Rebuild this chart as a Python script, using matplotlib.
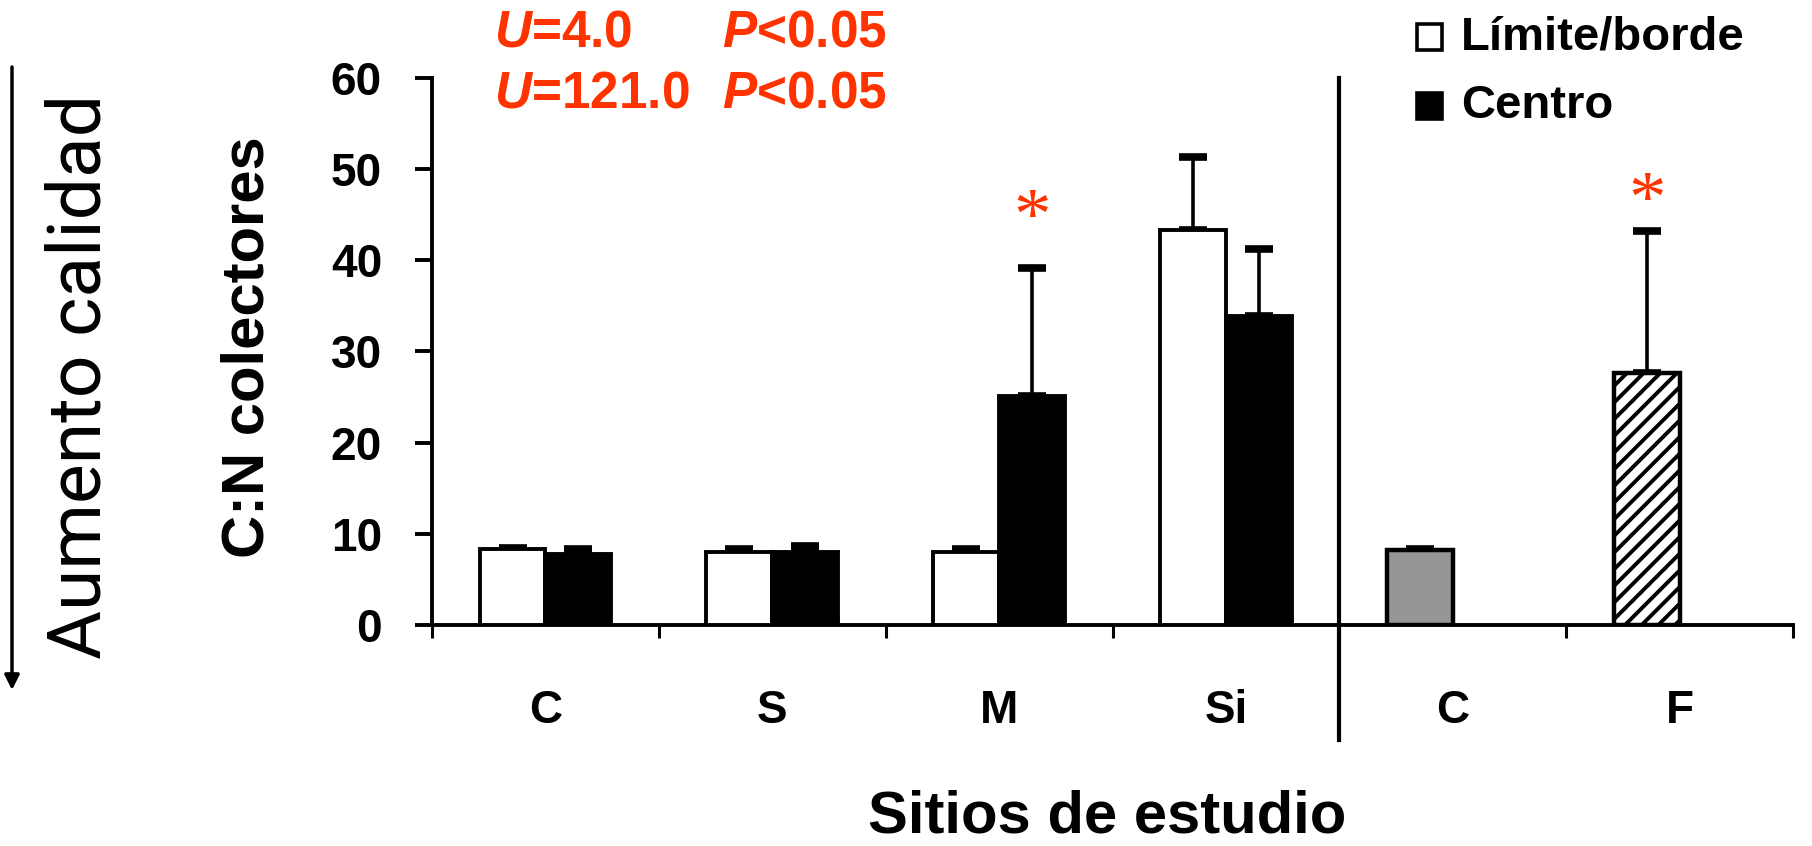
import matplotlib
matplotlib.use("Agg")
import matplotlib.pyplot as plt
import numpy as np
from matplotlib.patches import Rectangle

# ---------------- data ----------------
sites_left = ["C", "S", "M", "Si"]
limite_vals = [8.3, 8.0, 8.0, 43.3]
limite_err = [0.15, 0.3, 0.3, 8.0]
centro_vals = [7.8, 8.05, 25.1, 33.9]
centro_err = [0.5, 0.65, 14.1, 7.3]

sites_right = ["C", "F"]
right_vals = [8.25, 27.6]
right_err = [0.1, 15.6]
right_colors = ["#969696", "white"]
right_hatch = [None, "//"]

all_labels = sites_left + sites_right
yticks = [0, 10, 20, 30, 40, 50, 60]

stats_lines = [("U", "=4.0", "P", "<0.05"), ("U", "=121.0", "P", "<0.05")]
star_positions = [(2, "centro", 44.3), (5, "right", 46.1)]

RED = "#FF3300"
plt.rcParams["font.family"] = ["Liberation Sans", "DejaVu Sans"]
plt.rcParams["font.weight"] = "bold"
plt.rcParams["mathtext.fontset"] = "custom"
plt.rcParams["mathtext.it"] = "Liberation Sans:italic:bold"
plt.rcParams["mathtext.rm"] = "Liberation Sans:bold"
plt.rcParams["mathtext.bf"] = "Liberation Sans:bold"
plt.rcParams["hatch.linewidth"] = 2.8

W, H = 1812, 846
fig = plt.figure(figsize=(W / 100, H / 100), dpi=100)
ax = fig.add_axes([432 / W, (H - 625) / H, (1793 - 432) / W, (625 - 78) / H])

bw = 0.29
off = 0.145
xl = np.arange(len(sites_left)) + 0.5
xr = np.arange(len(sites_right)) + 0.5 + len(sites_left)

ekw = dict(elinewidth=2.6, capsize=10, capthick=5.5, ecolor="black")

ax.bar(xl - off, limite_vals, bw, color="white", edgecolor="black", linewidth=2.8,
       zorder=3)
ax.errorbar(xl - off, limite_vals, yerr=[np.zeros(len(limite_err)), limite_err],
            fmt="none", zorder=2, **ekw)
ax.bar(xl + off, centro_vals, bw, color="black", edgecolor="black", linewidth=2.8,
       zorder=3)
ax.errorbar(xl + off, centro_vals, yerr=[np.zeros(len(centro_err)), centro_err],
            fmt="none", zorder=2, **ekw)

for i in range(len(sites_right)):
    ax.bar(xr[i] - off, right_vals[i], bw, color=right_colors[i], edgecolor="black",
           linewidth=3.2, hatch=right_hatch[i], zorder=3)
ax.errorbar(xr - off, right_vals, yerr=[np.zeros(len(right_err)), right_err],
            fmt="none", zorder=2, **ekw)

# asterisks
for idx, kind, yv in star_positions:
    xv = (xl[idx] + off) if kind == "centro" else (xr[idx - len(sites_left)] - off)
    ax.text(xv, yv, "*", color=RED, fontsize=54, ha="center", va="center",
            family="Liberation Serif", fontweight="normal")

# axes styling
ax.set_xlim(0, 6)
ax.set_ylim(0, 60)
for s in ["top", "right"]:
    ax.spines[s].set_visible(False)
for s in ["left", "bottom"]:
    ax.spines[s].set_linewidth(2.8)
ax.spines["left"].set_bounds(0, 60)
ax.set_yticks(yticks)
ax.set_yticklabels([str(v) for v in yticks])
ax.tick_params(axis="y", length=12, width=2.8, pad=24, labelsize=33)
ax.set_xticks(np.arange(0, 7))
ax.set_xticklabels([])
ax.tick_params(axis="x", which="major", length=9, width=2.2)
ax.set_xticks(np.concatenate([xl, xr]), minor=True)
ax.set_xticklabels(all_labels, minor=True)
ax.tick_params(axis="x", which="minor", length=0, pad=46, labelsize=33)

# separator line
ax.plot([4, 4], [60, -12.6], color="black", lw=3.0, clip_on=False, zorder=4)

# axis titles
fig.text(248 / W, 1 - 347 / H, "C:N colectores", rotation=90, ha="center",
         va="center", fontsize=43)
fig.text(1107 / W, 1 - 817 / H, "Sitios de estudio", ha="center", va="center",
         fontsize=43)

# left arrow annotation
fig.text(80 / W, 1 - 376 / H, "Aumento calidad", rotation=90, ha="center",
         va="center", fontsize=54, family="Roboto", fontweight="normal")
ax.annotate("", xy=(12 / W, 1 - 690 / H), xytext=(12 / W, 1 - 67 / H),
            xycoords="figure fraction", textcoords="figure fraction",
            arrowprops=dict(arrowstyle="-|>", lw=2.5, color="black",
                            mutation_scale=22, shrinkA=0, shrinkB=0))

# statistics text
row_y = [33, 94]
for (u, uval, p, pval), yy in zip(stats_lines, row_y):
    fig.text(494 / W, 1 - yy / H, r"$\mathit{%s}$%s" % (u, uval), color=RED,
             fontsize=37, ha="left", va="center")
    fig.text(722 / W, 1 - yy / H, r"$\mathit{%s}$%s" % (p, pval), color=RED,
             fontsize=37, ha="left", va="center")

# legend (manual)
leg_items = [("Límite/borde", "white", 37), ("Centro", "black", 106)]
for lab, fc, yy in leg_items:
    fig.patches.append(Rectangle((1417 / W, 1 - (yy + 13) / H), 25 / W, 26 / H,
                                 transform=fig.transFigure, facecolor=fc,
                                 edgecolor="black", linewidth=2.6))
    fig.text(1461 / W, 1 - yy / H, lab, fontsize=34, ha="left", va="center")

fig.savefig("out.png", dpi=100)
